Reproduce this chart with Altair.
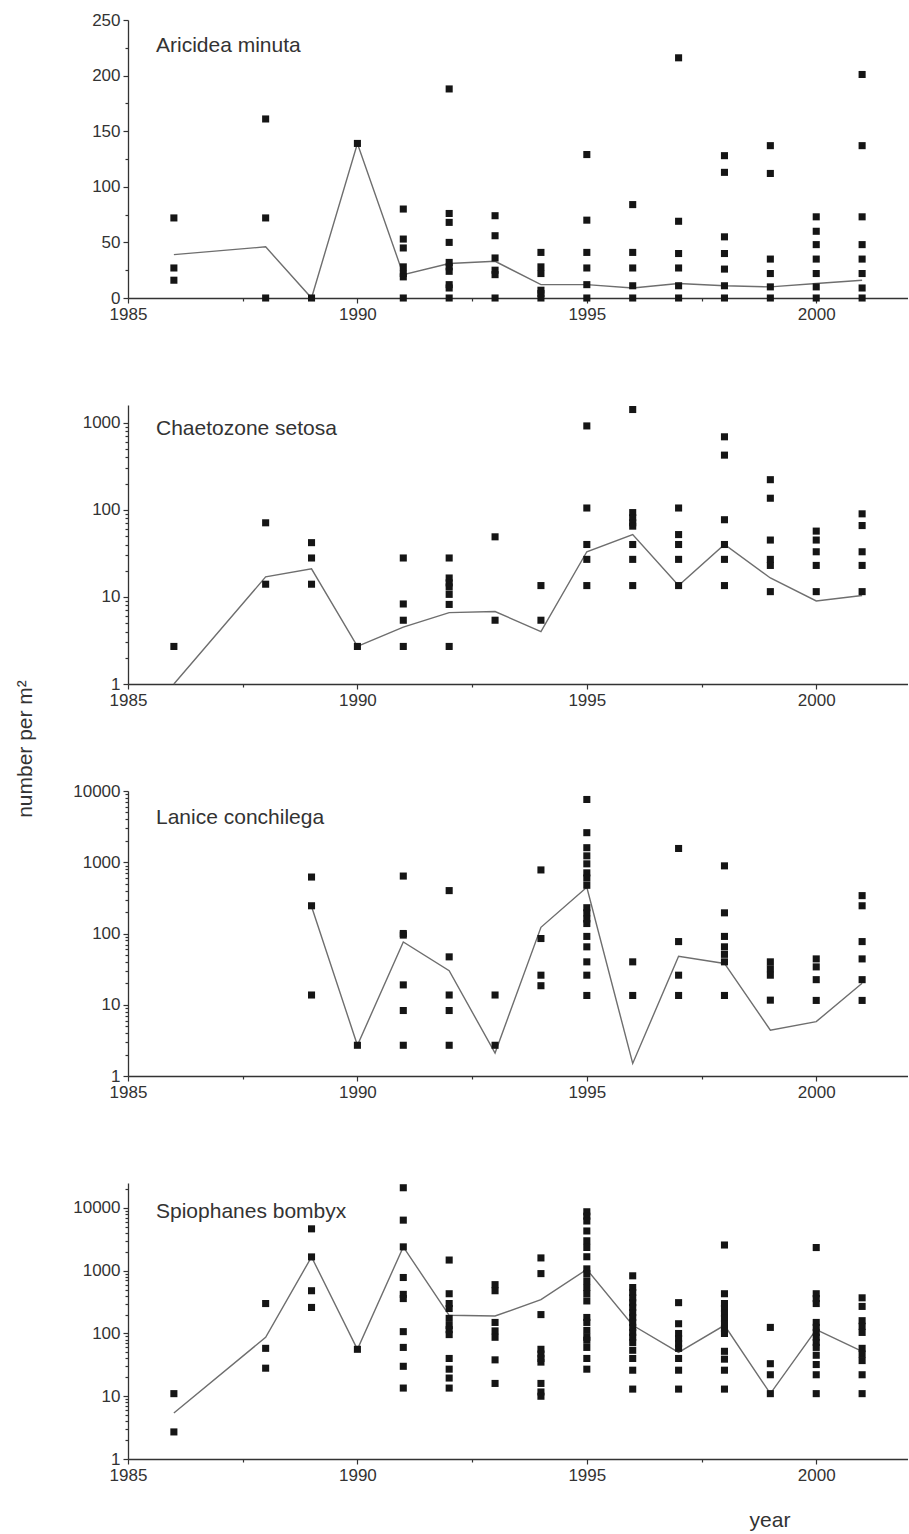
import altair as alt
import pandas as pd

FONT = "Liberation Sans"
INK = "#333333"

# ---------------- data ----------------
ARI_YEARS = [1986, 1988, 1989, 1990, 1991, 1992, 1993, 1994, 1995, 1996, 1997, 1998, 1999, 2000, 2001]
ARI_POINTS = [
    [72, 27, 16],
    [161, 72, 0],
    [0],
    [139],
    [80, 53, 45, 28, 22, 19, 0],
    [188, 76, 68, 50, 32, 28, 24, 12, 9, 0],
    [74, 56, 36, 25, 21, 0],
    [41, 28, 22, 7, 4, 0],
    [129, 70, 41, 27, 12, 0],
    [84, 41, 27, 11, 0],
    [216, 69, 40, 27, 11, 0],
    [128, 113, 55, 40, 26, 11, 0],
    [137, 112, 35, 22, 10, 0],
    [73, 60, 48, 35, 22, 10, 0],
    [201, 137, 73, 48, 35, 22, 9, 0],
]
ARI_MEAN = [39, 46, 0, 139, 21, 31, 33, 12, 12, 9, 13, 11, 10, 13, 16]

CHA_YEARS = [1986, 1988, 1989, 1990, 1991, 1992, 1993, 1994, 1995, 1996, 1997, 1998, 1999, 2000, 2001]
CHA_POINTS = [
    [2.7],
    [71, 14],
    [42, 28, 14],
    [2.7],
    [28, 8.3, 5.4, 2.7],
    [28, 16.5, 14.5, 13, 10.7, 8.2, 2.7],
    [49, 5.4],
    [13.5, 5.4],
    [920, 105, 40, 27, 13.5],
    [1420, 93, 81, 71, 65, 40, 27, 13.5],
    [105, 52, 40, 27, 13.5],
    [690, 425, 77, 40, 27, 13.5],
    [222, 136, 45, 27, 23, 11.5],
    [57, 45, 33, 23, 11.5],
    [90, 66, 33, 23, 11.5],
]
CHA_MEAN = [1, 17, 21, 2.7, 4.5, 6.6, 6.8, 4, 33, 52, 13.5, 40, 16.5, 9, 10.4]

LAN_YEARS = [1989, 1990, 1991, 1992, 1993, 1994, 1995, 1996, 1997, 1998, 1999, 2000, 2001]
LAN_POINTS = [
    [620, 245, 13.7],
    [2.7],
    [640, 100, 95, 19, 8.3, 2.7],
    [400, 47, 13.7, 8.3, 2.7],
    [13.7, 2.7],
    [780, 85, 26, 18.5],
    [7600, 2600, 1600, 1230, 950, 710, 600, 475, 230, 195, 160, 138, 91, 65, 40, 26, 13.5],
    [40, 13.5],
    [1560, 77, 26, 13.5],
    [890, 195, 91, 65, 51, 40, 13.5],
    [40, 32, 26, 11.6],
    [44, 34, 22.5, 11.5],
    [340, 245, 77, 44, 22.5, 11.5],
]
LAN_MEAN = [240, 2.7, 76, 30, 2.1, 122, 445, 1.5, 48, 38, 4.4, 5.8, 20]

SPI_YEARS = [1986, 1988, 1989, 1990, 1991, 1992, 1993, 1994, 1995, 1996, 1997, 1998, 1999, 2000, 2001]
SPI_POINTS = [
    [11, 2.7],
    [300, 58, 28],
    [4650, 1660, 480, 260],
    [56],
    [21000, 6400, 2400, 780, 420, 360, 107, 60, 30, 13.5],
    [1480, 430, 300, 250, 174, 134, 115, 96, 40, 27, 19.5, 13.5],
    [600, 480, 150, 110, 87, 38, 16],
    [1600, 900, 200, 56, 47, 40, 35, 16, 11.7, 10],
    [8700, 7400, 6200, 4300, 3000, 2350, 1670, 1070, 900, 690, 540, 430, 330, 180, 150, 112, 87, 78, 60, 40, 27],
    [830, 540, 450, 370, 310, 260, 215, 180, 150, 125, 104, 87, 72, 54, 40, 26, 13],
    [310, 143, 100, 83, 69, 58, 40, 26, 13],
    [2570, 430, 300, 250, 210, 174, 143, 120, 100, 52, 39, 26, 13],
    [125, 33, 22, 11],
    [2340, 430, 360, 300, 150, 125, 104, 87, 72, 60, 45, 32, 22, 11],
    [370, 270, 160, 130, 104, 58, 47, 37, 22, 11],
]
SPI_MEAN = [5.4, 87, 1660, 56, 2400, 195, 190, 346, 1050, 135, 50, 135, 11, 115, 52]

X_TICKS = [1985, 1987.5, 1990, 1992.5, 1995, 1997.5, 2000]
LIN_TICKS = [0, 25, 50, 75, 100, 125, 150, 175, 200, 225, 250]
LOG_MINOR = [1, 2, 3, 4, 5, 6, 7, 8, 9]


def log_ticks(top):
    vals = []
    for dec in [1, 10, 100, 1000, 10000]:
        for m in LOG_MINOR:
            v = m * dec
            if v <= top:
                vals.append(v)
    return vals


def panel(name, years, points, means, log, domain, yticks, height, title_y, extras=()):
    pts = pd.DataFrame(
        [{"year": y, "n": v} for y, vals in zip(years, points) for v in vals]
    )
    mean = pd.DataFrame({"year": years, "n": means})

    xscale = alt.Scale(domain=[1985, 2002], nice=False, zero=False)
    x_major = "datum.value % 5 == 0"
    xaxis = alt.Axis(
        values=X_TICKS, format="d", title=None,
        labelExpr=f"{x_major} ? datum.label : ''",
        labelFlush=False, labelOverlap=False,
        tickSize={"condition": {"test": x_major, "value": 5}, "value": 3},
    )
    if log:
        yscale = alt.Scale(type="log", domain=domain, nice=False)
        y_major = "indexof([1,10,100,1000,10000], datum.value) >= 0"
    else:
        yscale = alt.Scale(domain=domain, nice=False, zero=False)
        y_major = "datum.value % 50 == 0"
    yaxis = alt.Axis(
        values=yticks, format="d", title=None,
        labelExpr=f"{y_major} ? datum.label : ''",
        labelOverlap=False,
        tickSize={"condition": {"test": y_major, "value": 5}, "value": 3},
    )
    X = alt.X("year:Q", scale=xscale, axis=xaxis)
    Y = alt.Y("n:Q", scale=yscale, axis=yaxis)

    line = alt.Chart(mean).mark_line(color="#6e6e6e", strokeWidth=1.4).encode(x=X, y=Y)
    sq = alt.Chart(pts).mark_square(size=50, color="#151515", opacity=1).encode(x=X, y=Y)
    label = alt.Chart(pd.DataFrame({"t": [name]})).mark_text(
        align="left", baseline="alphabetic", fontSize=21, font=FONT, color=INK
    ).encode(x=alt.value(28), y=alt.value(title_y), text="t:N")
    return alt.layer(line, sq, label, *extras).properties(width=780, height=height)


ytitle = alt.Chart(pd.DataFrame({"t": ["number per m²"]})).mark_text(
    angle=270, align="center", baseline="middle", fontSize=21, font=FONT, color=INK
).encode(x=alt.value(-102), y=alt.value(344), text="t:N")

xtitle = alt.Chart(pd.DataFrame({"t": ["year"]})).mark_text(
    align="center", baseline="alphabetic", fontSize=21, font=FONT, color=INK
).encode(x=alt.value(642), y=alt.value(344), text="t:N")

p1 = panel("Aricidea minuta", ARI_YEARS, ARI_POINTS, ARI_MEAN, False, [0, 250], LIN_TICKS, 278, 32)
p2 = panel("Chaetozone setosa", CHA_YEARS, CHA_POINTS, CHA_MEAN, True, [1, 1600], log_ticks(1600), 279, 30, (ytitle,))
p3 = panel("Lanice conchilega", LAN_YEARS, LAN_POINTS, LAN_MEAN, True, [1, 10000], log_ticks(10000), 285, 33)
p4 = panel("Spiophanes bombyx", SPI_YEARS, SPI_POINTS, SPI_MEAN, True, [1, 25000], log_ticks(25000), 276, 35, (xtitle,))

chart = alt.vconcat(p1, p2, p3, p4, spacing=107, bounds="flush").properties(
    padding={"left": 15, "top": 11, "right": 0, "bottom": 0}
).configure_view(stroke=None).configure_axis(
    grid=False,
    domainColor=INK, domainWidth=1.3,
    tickColor=INK, tickWidth=1.2,
    labelColor=INK, labelFont=FONT, labelFontSize=17, labelPadding=3,
)

chart.save("out.html", embed_options={"renderer": "svg", "actions": False})
